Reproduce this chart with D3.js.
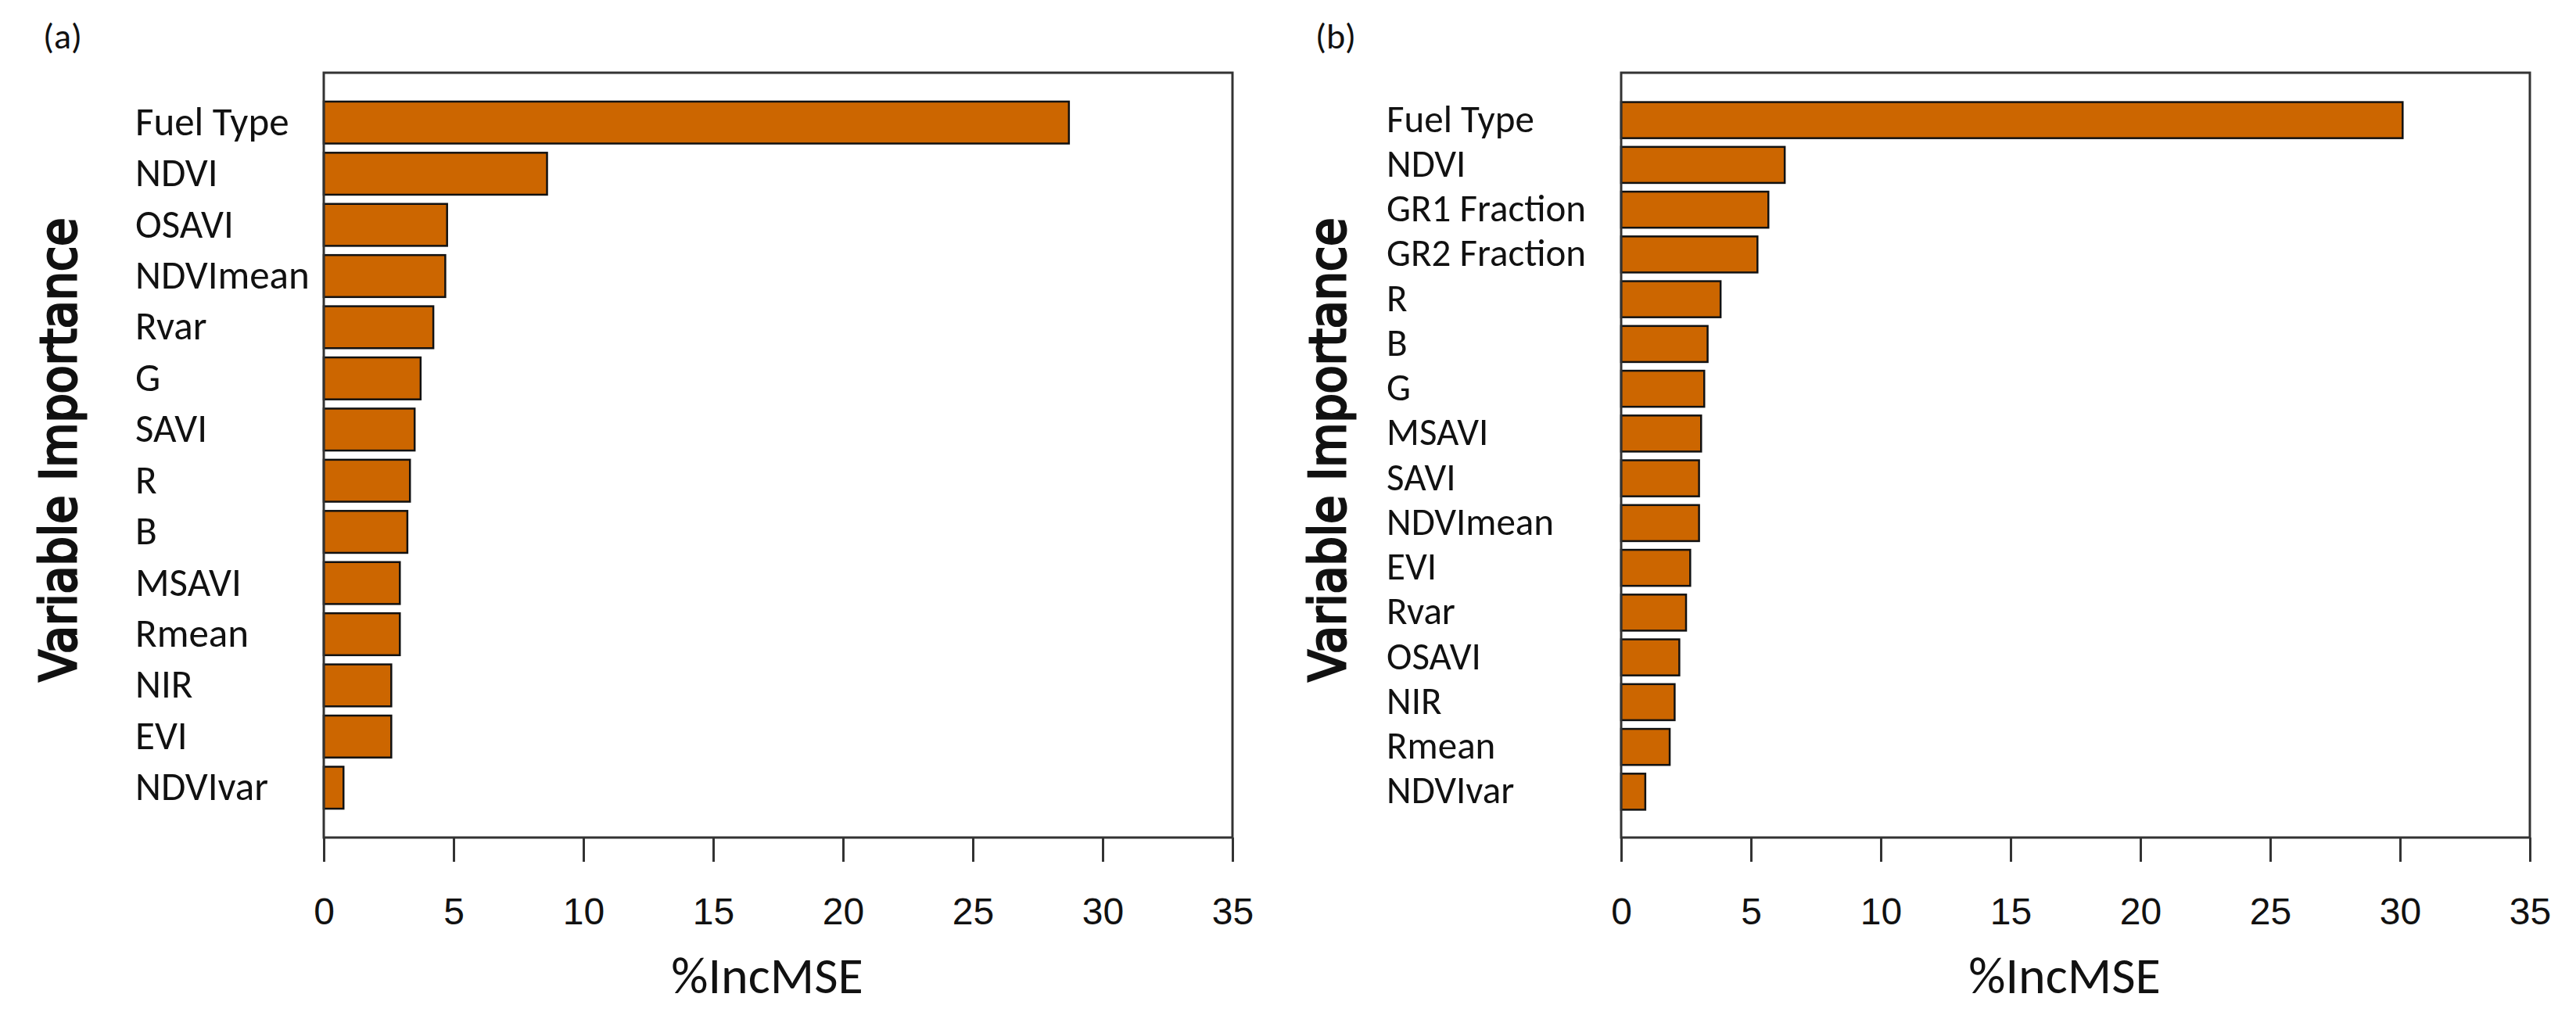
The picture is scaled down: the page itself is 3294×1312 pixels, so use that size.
<!DOCTYPE html>
<html>
<head>
  <meta charset="utf-8">
  <title>Variable Importance</title>
  <script src="https://cdnjs.cloudflare.com/ajax/libs/d3/7.8.5/d3.min.js"></script>
  <style>
    body { margin: 0; background: #fff; }
    svg { display: block; }
  </style>
</head>
<body>
  <div id="chart"></div>
  <script>
    // panel (a)
    var labelsA = ["Fuel Type", "NDVI", "OSAVI", "NDVImean", "Rvar", "G", "SAVI", "R", "B",
                   "MSAVI", "Rmean", "NIR", "EVI", "NDVIvar"];
    var valuesA = [28.7, 8.6, 4.75, 4.68, 4.22, 3.73, 3.5, 3.32, 3.22, 2.93, 2.93, 2.6, 2.6, 0.76];

    // panel (b)
    var labelsB = ["Fuel Type", "NDVI", "GR1 Fraction", "GR2 Fraction", "R", "B", "G", "MSAVI",
                   "SAVI", "NDVImean", "EVI", "Rvar", "OSAVI", "NIR", "Rmean", "NDVIvar"];
    var valuesB = [30.1, 6.3, 5.67, 5.25, 3.83, 3.33, 3.2, 3.08, 3.0, 3.0, 2.66, 2.5, 2.24, 2.06, 1.87, 0.93];

    var xTicks = [0, 5, 10, 15, 20, 25, 30, 35];
    var xTitle = "%IncMSE";
    var yTitle = "Variable Importance";

    var W = 3294, H = 1312;
    var barColor = "#cc6600";
    var labelFont = "Carlito, Lato, 'Open Sans', sans-serif";

    var svg = d3.select("#chart").append("svg")
      .attr("width", W)
      .attr("height", H);

    function drawPanel(tag, labels, values, o) {
      var g = svg.append("g");

      var x = d3.scaleLinear().domain([0, 35]).range([o.left, o.right]);
      var y = d3.scaleBand().domain(labels).range(o.band)
        .paddingInner(o.pad).paddingOuter(o.pad / 2);

      // bars
      g.selectAll("rect.bar")
        .data(values)
        .enter().append("rect")
        .attr("class", "bar")
        .attr("x", x(0))
        .attr("y", function(d, i) { return y(labels[i]); })
        .attr("width", function(d) { return x(d) - x(0); })
        .attr("height", y.bandwidth())
        .attr("fill", barColor)
        .attr("stroke", "#111")
        .attr("stroke-width", 2.5);

      // frame
      g.append("rect")
        .attr("x", o.left).attr("y", o.top)
        .attr("width", o.right - o.left).attr("height", o.bottom - o.top)
        .attr("fill", "none")
        .attr("stroke", "#333")
        .attr("stroke-width", 3);

      // x axis
      var ax = g.append("g")
        .attr("transform", "translate(0," + o.bottom + ")")
        .call(d3.axisBottom(x).tickValues(xTicks).tickSize(31).tickPadding(46));
      ax.select(".domain").remove();
      ax.selectAll(".tick line").attr("stroke", "#333").attr("stroke-width", 3);
      ax.selectAll(".tick text")
        .attr("font-family", "'Liberation Sans', Arial, sans-serif")
        .attr("font-size", 48)
        .attr("fill", "#111");

      // category labels, left aligned
      g.selectAll("text.cat")
        .data(labels)
        .enter().append("text")
        .attr("class", "cat")
        .attr("x", o.labelX)
        .attr("y", function(d) { return y(d) + y.bandwidth() / 2 + o.labelDy; })
        .attr("font-family", labelFont)
        .attr("font-size", o.labelSize)
        .attr("fill", "#111")
        .text(function(d) { return d; });

      // axis titles
      g.append("text")
        .attr("x", (o.left + o.right) / 2 - 14)
        .attr("y", 1270)
        .attr("text-anchor", "middle")
        .attr("font-family", labelFont)
        .attr("font-size", 66)
        .attr("fill", "#111")
        .text(xTitle);

      g.append("text")
        .attr("transform", "translate(" + o.yTitleX + ",575) rotate(-90)")
        .attr("text-anchor", "middle")
        .attr("font-family", "'DejaVu Sans', Verdana, sans-serif")
        .attr("font-size", 64)
        .attr("textLength", 593)
        .attr("lengthAdjust", "spacingAndGlyphs")
        .attr("fill", "#111")
        .attr("stroke", "#111")
        .attr("stroke-width", 3)
        .text(yTitle);

      // panel tag
      g.append("text")
        .attr("x", o.tagX)
        .attr("y", 62)
        .attr("font-family", labelFont)
        .attr("font-size", 46)
        .attr("fill", "#111")
        .text(tag);
    }

    drawPanel("(a)", labelsA, valuesA, {
      left: 414, right: 1576, top: 93, bottom: 1071,
      band: [124, 1040], pad: 0.18,
      labelX: 173, labelDy: 16, labelSize: 51,
      yTitleX: 97, tagX: 55
    });

    drawPanel("(b)", labelsB, valuesB, {
      left: 2073, right: 3235, top: 93, bottom: 1071,
      band: [125, 1041], pad: 0.195,
      labelX: 1773, labelDy: 15, labelSize: 49,
      yTitleX: 1720, tagX: 1682
    });
  </script>
</body>
</html>
